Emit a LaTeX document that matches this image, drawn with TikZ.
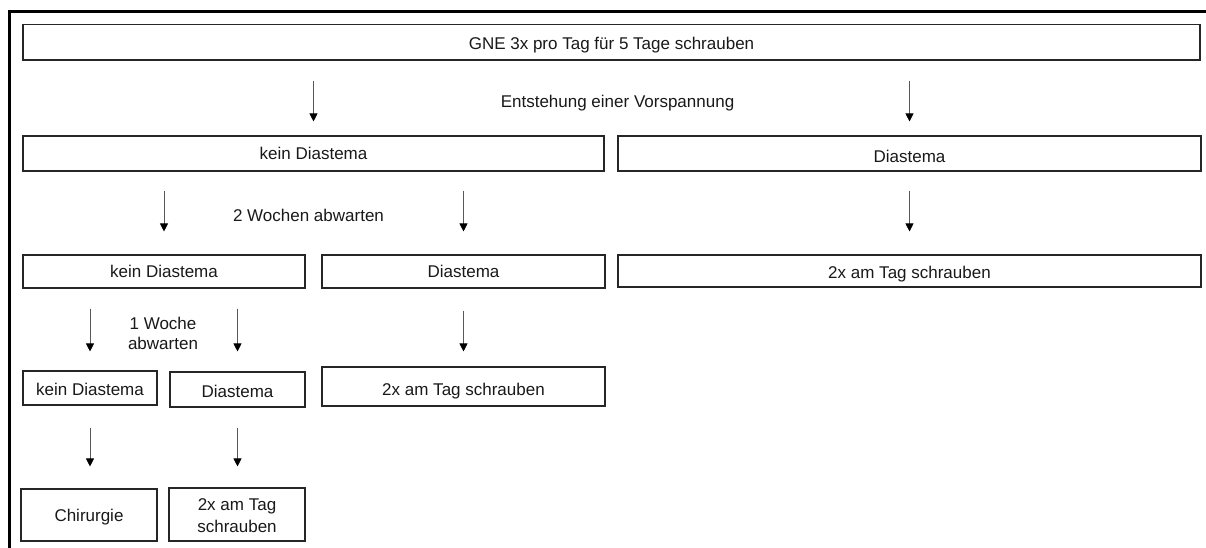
\documentclass[tikz,border=0pt]{standalone}
\usepackage{fontspec}
\setmainfont{Liberation Sans}
\usetikzlibrary{arrows.meta}
\tikzset{
  box/.style={draw=black!85, line width=1.1pt, rectangle, inner sep=0pt, align=center, font=\fontsize{17}{21}\selectfont, text=black!90, text height=12.2pt, text depth=0pt},
  lbl/.style={inner sep=0pt, align=center, font=\fontsize{17}{20}\selectfont, text=black!90},
  lblone/.style={lbl, text height=12.2pt, text depth=0pt},
  arr/.style={draw=black!65, line width=0.8pt, -{Triangle[width=8pt,length=8pt,color=black,fill=black]}},
  frame/.style={line width=3pt, draw=black}
}
\begin{document}
\begin{tikzpicture}[x=1pt,y=-1pt]
\useasboundingbox (0,0) rectangle (1206,548);
\fill[white] (0,0) rectangle (1206,548);
\draw[frame] (9.5,560) -- (9.5,12) -- (1220,12);

\node[box, minimum width=1177pt, minimum height=35.5pt, text height=14.2pt] (top) at (611.5,42.25) {GNE 3x pro Tag für 5 Tage schrauben};
\node[box, minimum width=581pt, minimum height=35pt] (r2L) at (313.5,153.5) {kein Diastema};
\node[box, minimum width=583pt, minimum height=35pt, text height=17.2pt] (r2R) at (909.5,153.5) {Diastema};

\node[box, minimum width=282pt, minimum height=33pt] (r3a) at (164,271.5) {kein Diastema};
\node[box, minimum width=283pt, minimum height=33pt] (r3b) at (463.5,271.5) {Diastema};
\node[box, minimum width=583pt, minimum height=32pt, text height=14.8pt] (r3c) at (909.5,271) {2x am Tag schrauben};

\node[box, minimum width=134pt, minimum height=34pt, text height=14.2pt] (r4a) at (90,388) {kein Diastema};
\node[box, minimum width=135pt, minimum height=35pt, text height=15.2pt] (r4b) at (237.5,389.5) {Diastema};
\node[box, minimum width=283pt, minimum height=39pt, text height=17.2pt] (r4c) at (463.5,386.5) {2x am Tag schrauben};

\node[box, minimum width=136pt, minimum height=52pt] (r5a) at (89,515) {Chirurgie};
\node[box, minimum width=136pt, minimum height=53pt,
      label={[lbl, font=\fontsize{17}{22}\selectfont, yshift=-1pt]center:{2x am Tag\\schrauben}}] (r5b) at (237,514.5) {};

\node[lblone] (l1) at (617.5,101.7) {Entstehung einer Vorspannung};
\node[lblone] (l2) at (308.5,215) {2 Wochen abwarten};
\node[lbl] (l3) at (163,333) {1 Woche\\abwarten};

\draw[arr, shorten <=20pt, shorten >=14pt] (top.south -| r2L.north) -- (r2L.north);
\draw[arr, shorten <=20pt, shorten >=14pt] (top.south -| r2R.north) -- (r2R.north);
\draw[arr, shorten <=19pt, shorten >=23pt] (r2L.south -| r3a.north) -- (r3a.north);
\draw[arr, shorten <=19pt, shorten >=23pt] (r2L.south -| r3b.north) -- (r3b.north);
\draw[arr, shorten <=19pt, shorten >=23pt] (r2R.south) -- (r3c.north);
\draw[arr, shorten <=20pt, shorten >=19pt] (r3a.south -| r4a.north) -- (r4a.north);
\draw[arr, shorten <=20pt, shorten >=20pt] (r3a.south -| r4b.north) -- (r4b.north);
\draw[arr, shorten <=22pt, shorten >=15pt] (r3b.south) -- (r4c.north);
\draw[arr, shorten <=22pt, shorten >=22pt] (r4a.south) -- (r4a.south |- r5a.north);
\draw[arr, shorten <=20pt, shorten >=21pt] (r4b.south) -- (r4b.south |- r5b.north);
\end{tikzpicture}
\end{document}
